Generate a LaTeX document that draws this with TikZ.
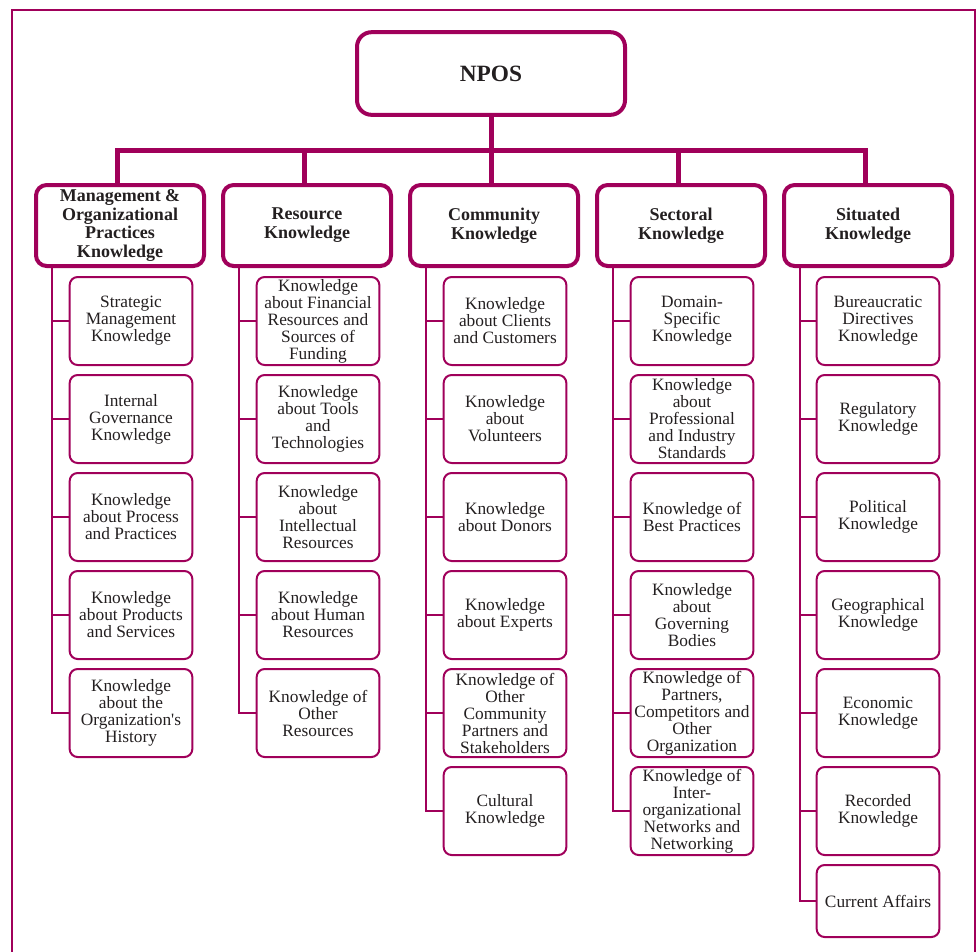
\documentclass[tikz,border=0pt]{standalone}
\usepackage{fontspec}
\setmainfont{Liberation Serif}
\usetikzlibrary{positioning}
\definecolor{npoline}{RGB}{160,0,90}
\definecolor{npotext}{RGB}{35,31,32}
\tikzset{
% Three box styles for the chart: root, category heads and leaf items
root node/.style={draw=npoline,line width=3pt,rounded corners=11pt,minimum width=201pt,minimum height=62pt,text=npotext,font=\fontsize{17.5}{20}\selectfont\bfseries},
head node/.style={draw=npoline,line width=3pt,rounded corners=8pt,minimum width=126pt,minimum height=60.75pt,inner sep=1pt,align=center,text=npotext,font=\fontsize{13.5}{14.2}\selectfont\bfseries},
leaf node/.style={draw=npoline,line width=1.5pt,rounded corners=6pt,minimum width=92pt,minimum height=66pt,inner sep=0pt,align=center,text=npotext,font=\fontsize{13}{12.75}\selectfont},
trunk/.style={draw=npoline,line width=3.75pt},
branch/.style={draw=npoline,line width=1.5pt}
}

\begin{document}
\begin{tikzpicture}[x=0.75pt, y=-0.75pt, node distance=6pt]
\useasboundingbox (0,0) rectangle (977,951);
\draw[npoline, line width=1.8pt] (12,10) rectangle (975,975);

\node[root node] (npos) at (491,73.5) {NPOS};

\node[head node] (mgmt) at (120,225.5) {Management \&\\Organizational\\Practices\\Knowledge};
\node[head node] (res) at (307,225.5) {Resource\\Knowledge};
\node[head node] (comm) at (494,225.5) {Community\\Knowledge};
\node[head node] (sect) at (681,225.5) {Sectoral\\Knowledge};
\node[head node] (situ) at (868,225.5) {Situated\\Knowledge};

\coordinate (bus) at (492,150);
\draw[trunk] (npos.south) -- (npos.south |- bus);
\foreach \h in {mgmt,res,comm,sect,situ}
    \coordinate (\h-t) at ([xshift=-2.25pt]\h.north);
\draw[trunk] (mgmt-t) |- (bus) -| (situ-t);
\foreach \h in {res,comm,sect}
    \draw[trunk] (\h-t) -- (\h-t |- bus);

\node[leaf node] (mgmt1) at (131,321) {Strategic\\Management\\Knowledge};
\node[leaf node, below=of mgmt1] (mgmt2) {Internal\\Governance\\Knowledge};
\node[leaf node, below=of mgmt2] (mgmt3) {Knowledge\\about Process\\and Practices};
\node[leaf node, below=of mgmt3] (mgmt4) {Knowledge\\about Products\\and Services};
\node[leaf node, below=of mgmt4] (mgmt5) {Knowledge\\about the\\Organization\textquotesingle s\\History};

\node[leaf node] (res1) at (318,321) {Knowledge\\about Financial\\Resources and\\Sources of\\Funding};
\node[leaf node, below=of res1] (res2) {Knowledge\\about Tools\\and\\Technologies};
\node[leaf node, below=of res2] (res3) {Knowledge\\about\\Intellectual\\Resources};
\node[leaf node, below=of res3] (res4) {Knowledge\\about Human\\Resources};
\node[leaf node, below=of res4] (res5) {Knowledge of\\Other\\Resources};

\node[leaf node] (comm1) at (505,321) {Knowledge\\about Clients\\and Customers};
\node[leaf node, below=of comm1] (comm2) {Knowledge\\about\\Volunteers};
\node[leaf node, below=of comm2] (comm3) {Knowledge\\about Donors};
\node[leaf node, below=of comm3] (comm4) {Knowledge\\about Experts};
\node[leaf node, below=of comm4] (comm5) {Knowledge of\\Other\\Community\\Partners and\\Stakeholders};
\node[leaf node, below=of comm5] (comm6) {Cultural\\Knowledge};

\node[leaf node] (sect1) at (692,321) {Domain-\\Specific\\Knowledge};
\node[leaf node, below=of sect1] (sect2) {Knowledge\\about\\Professional\\and Industry\\Standards};
\node[leaf node, below=of sect2] (sect3) {Knowledge of\\Best Practices};
\node[leaf node, below=of sect3] (sect4) {Knowledge\\about\\Governing\\Bodies};
\node[leaf node, below=of sect4] (sect5) {Knowledge of\\Partners,\\Competitors and\\Other\\Organization};
\node[leaf node, below=of sect5] (sect6) {Knowledge of\\Inter-\\organizational\\Networks and\\Networking};

\node[leaf node] (situ1) at (878,321) {Bureaucratic\\Directives\\Knowledge};
\node[leaf node, below=of situ1] (situ2) {Regulatory\\Knowledge};
\node[leaf node, below=of situ2] (situ3) {Political\\Knowledge};
\node[leaf node, below=of situ3] (situ4) {Geographical\\Knowledge};
\node[leaf node, below=of situ4] (situ5) {Economic\\Knowledge};
\node[leaf node, below=of situ5] (situ6) {Recorded\\Knowledge};
\node[leaf node, below=of situ6, minimum height=54pt] (situ7) {Current Affairs};

% spines down the left of each column
\foreach \c/\n in {mgmt/5,res/5,comm/6,sect/6,situ/7} {
    \coordinate (\c-s) at ([xshift=13.5pt]\c.south west);
    \draw[branch] (\c-s) |- (\c\n.west);
    \foreach \k in {1,...,\n}
        \draw[branch] (\c-s |- \c\k.west) -- (\c\k.west);
}
\end{tikzpicture}
\end{document}
